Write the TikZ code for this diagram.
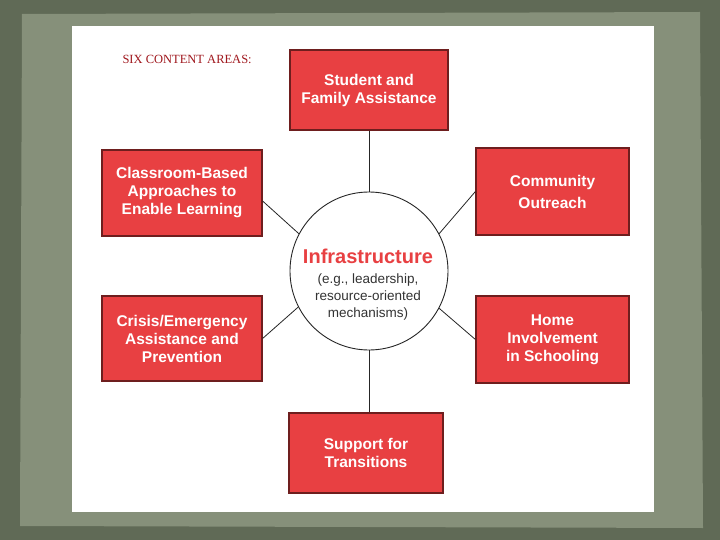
\documentclass[tikz,border=0pt]{standalone}
\usepackage{fontspec}
\setmainfont{Liberation Sans}
\newfontfamily\titlefont{Liberation Serif}
\begin{document}
\begin{tikzpicture}[x=1pt,y=-1pt,
  area/.style={draw=boxedge,line width=1.2pt,fill=boxred,text=white,font=\bfseries\fontsize{15.5}{18}\selectfont,align=center,inner sep=0pt},
  link/.style={draw=black!85,line width=0.8pt}]
\definecolor{boxred}{RGB}{232,64,66}
\definecolor{boxedge}{RGB}{110,30,30}
\definecolor{stonedark}{RGB}{96,106,86}
\definecolor{stonelight}{RGB}{134,144,122}
\definecolor{titlered}{RGB}{160,24,30}
\useasboundingbox (0,0) rectangle (720,540);
\fill[stonedark] (0,0) rectangle (720,540);
\fill[stonelight] (22,14) -- (700,12) -- (703,528) -- (20,526) -- cycle;
\fill[white] (72,26) rectangle (654,512);
\node[anchor=west,text=titlered,font=\titlefont\fontsize{12.5}{14}\selectfont] (title) at (119,59) {SIX CONTENT AREAS:};
\node[area,minimum width=158pt,minimum height=80pt] (stud) at (369,90) {Student and\\Family Assistance};
\node[area,minimum width=160pt,minimum height=86pt] (class) at (182,193) {Classroom-Based\\Approaches to\\Enable Learning};
\node[area,minimum width=153pt,minimum height=87pt,font=\bfseries\fontsize{15.5}{22}\selectfont] (comm) at (552.5,191.5) {Community\\Outreach};
\node[area,minimum width=160pt,minimum height=85pt] (crisis) at (182,338.5) {Crisis/Emergency\\Assistance and\\Prevention};
\node[area,minimum width=153pt,minimum height=87pt] (home) at (552.5,339.5) {Home\\Involvement\\in Schooling};
\node[area,minimum width=154pt,minimum height=80pt] (supp) at (366,453) {Support for\\Transitions};
\node[circle,draw=black!85,line width=0.9pt,fill=white,minimum size=158pt,inner sep=0pt] (infra) at (369,271) {};
\node[text=boxred,font=\bfseries\fontsize{20}{22}\selectfont] (infratitle) at (368,256) {Infrastructure};
\node[align=center,text=black!80,font=\fontsize{13.5}{17}\selectfont] (infrasub) at (368,297) {(e.g., leadership,\\resource-oriented\\mechanisms)};
\draw[link] (stud.south) -- (infra.north);
\draw[link] (supp.north -| infra.south) -- (infra.south);
\draw[link] (class.east) ++(0,8) coordinate (c1) (c1) -- (infra.152);
\draw[link] (comm.west) -- (infra.28);
\draw[link] (crisis.east) -- (infra.207);
\draw[link] (home.west) -- (infra.332);
\end{tikzpicture}
\end{document}
